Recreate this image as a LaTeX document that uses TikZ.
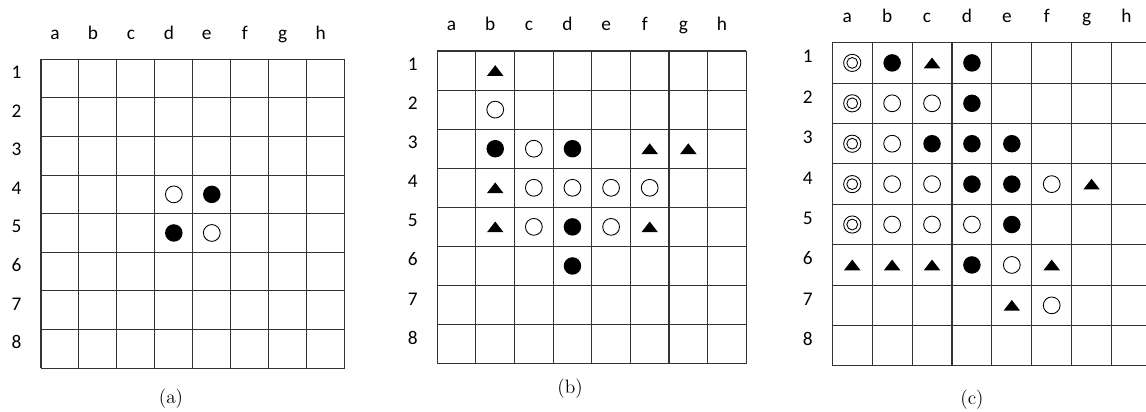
\documentclass[tikz,border=0pt]{standalone}
\usepackage{fontspec}
\newfontfamily\labelfont{Carlito}
\usepackage{tikz}
\usetikzlibrary{positioning}

\tikzset{
      gridline/.style={draw=black!80, line width=0.6pt},
      collbl/.style={font=\labelfont\fontsize{11}{13}\selectfont, anchor=base,
                     inner sep=0pt, xshift=-0.1cm, yshift=0.406cm},
      rowlbl/.style={font=\labelfont\fontsize{11}{13}\selectfont, anchor=base,
                     inner sep=0pt, xshift=-0.49cm},
      caption/.style={font=\fontsize{11}{13}\selectfont, anchor=base, inner sep=0pt},
      white stone/.pic={\draw[line width=0.5pt, fill=white] (0,0) circle[radius=0.168cm];},
      black stone/.pic={\fill (0,0) circle[radius=0.175cm];},
      ring stone/.pic={\draw[line width=0.5pt] (0,0) circle[radius=0.172cm];
                       \draw[line width=0.5pt] (0,0) circle[radius=0.108cm];},
      tri mark/.pic={\fill (-0.165cm,-0.107cm) -- (0.165cm,-0.107cm) -- (0,0.107cm) -- cycle;},
}

\begin{document}
\begin{tikzpicture}[x=0.02cm, y=-0.02cm]
      \clip (0,0) rectangle (1146,412);

      % board (a)
      \begin{scope}[shift={(41,59.3)}, x=0.7592cm, y=-0.772cm]
            \foreach \i in {0,...,8} {
                  \draw[gridline] (\i,0) -- (\i,8);
                  \draw[gridline] (0,\i) -- (8,\i);
            }
            \foreach \c [count=\i] in {a,b,c,d,e,f,g,h}
                  \node[collbl] (a-col\i) at (\i-0.5,0) {\c};
            \foreach \j in {1,...,8}
                  \node[rowlbl] (a-row\j) at (0,\j-0.5) {\j};
            \foreach \x/\y in {4/4, 5/5} \pic at (\x-0.5,\y-0.5) {white stone};
            \foreach \x/\y in {5/4, 4/5} \pic at (\x-0.5,\y-0.5) {black stone};
      \end{scope}
      \node[caption] (capa) at (171,403) {(a)};

      % board (b)
      \begin{scope}[shift={(437.3,51)}, x=0.7725cm, y=-0.7818cm]
            \foreach \i in {0,...,8} {
                  \draw[gridline] (\i,0) -- (\i,8);
                  \draw[gridline] (0,\i) -- (8,\i);
            }
            \foreach \c [count=\i] in {a,b,c,d,e,f,g,h}
                  \node[collbl] (b-col\i) at (\i-0.5,0) {\c};
            \foreach \j in {1,...,8}
                  \node[rowlbl] (b-row\j) at (0,\j-0.5) {\j};
            \foreach \x/\y in {2/2, 3/3, 3/4, 4/4, 5/4, 6/4, 3/5, 5/5}
                  \pic at (\x-0.5,\y-0.5) {white stone};
            \foreach \x/\y in {2/3, 4/3, 4/5, 4/6}
                  \pic at (\x-0.5,\y-0.5) {black stone};
            \foreach \x/\y in {2/1, 6/3, 7/3, 2/4, 2/5, 6/5}
                  \pic at (\x-0.5,\y-0.5) {tri mark};
      \end{scope}
      \node[caption] (capb) at (570,393) {(b)};

      % board (c)
      \begin{scope}[shift={(832.3,42.7)}, x=0.798cm, y=-0.8083cm]
            \foreach \i in {0,...,8} {
                  \draw[gridline] (\i,0) -- (\i,8);
                  \draw[gridline] (0,\i) -- (8,\i);
            }
            \foreach \c [count=\i] in {a,b,c,d,e,f,g,h}
                  \node[collbl] (c-col\i) at (\i-0.5,0) {\c};
            \foreach \j in {1,...,8}
                  \node[rowlbl] (c-row\j) at (0,\j-0.5) {\j};
            \foreach \y in {1,...,5} \pic at (0.5,\y-0.5) {ring stone};
            \foreach \x/\y in {2/2, 3/2, 2/3, 2/4, 3/4, 6/4, 2/5, 3/5, 4/5, 5/6, 6/7}
                  \pic at (\x-0.5,\y-0.5) {white stone};
            \foreach \x/\y in {2/1, 4/1, 4/2, 3/3, 4/3, 5/3, 4/4, 5/4, 5/5, 4/6}
                  \pic at (\x-0.5,\y-0.5) {black stone};
            \foreach \x/\y in {3/1, 7/4, 1/6, 2/6, 3/6, 6/6, 5/7}
                  \pic at (\x-0.5,\y-0.5) {tri mark};
      \end{scope}
      \node[caption] (capc) at (972,404) {(c)};
\end{tikzpicture}
\end{document}
